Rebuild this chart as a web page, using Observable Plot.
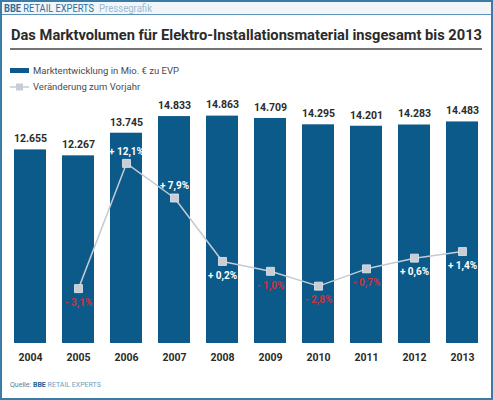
<!DOCTYPE html>
<html>
<head>
<meta charset="utf-8">
<script src="https://cdn.jsdelivr.net/npm/d3@7"></script>
<script src="https://cdn.jsdelivr.net/npm/@observablehq/plot@0.6"></script>
<style>
  body { margin: 0; background: #fff; font-family: Roboto, "Liberation Sans", sans-serif; }
  #frame { position: relative; width: 493px; height: 400px; overflow: hidden; background: #fff; }
  #border { position: absolute; left: 0; top: 0; width: 493px; height: 400px; box-sizing: border-box; border: 2px solid #3b7ca6; pointer-events: none; z-index: 5; }
  #header { position: absolute; left: 0; top: 0; width: 493px; height: 15px; background: #f2f6f9; border-bottom: 1.5px solid #5b93b8; box-sizing: border-box; }
  .abs { position: absolute; }
  .legend { font-family: "Liberation Sans Narrow", "Roboto", sans-serif; font-size: 9.5px; color: #4a4a4a; white-space: nowrap; }
  #chart { position: absolute; left: 0; top: 100px; width: 493px; height: 270px; }
  #chart > svg { position: absolute; left: 0; top: 0; }
</style>
</head>
<body>
<div id="frame">
  <div id="header"></div>
  <svg class="abs" style="left:0;top:0" width="493" height="60">
    <text x="4" y="12" textLength="90" lengthAdjust="spacingAndGlyphs" font-family="Roboto, sans-serif" font-size="10" fill="#2f6e9c"><tspan font-weight="bold">BBE</tspan> RETAIL EXPERTS</text>
    <text x="99" y="12" textLength="53" lengthAdjust="spacingAndGlyphs" font-family="Roboto, sans-serif" font-size="10" fill="#9bbad1">Pressegrafik</text>
    <text x="11" y="39.5" textLength="471" lengthAdjust="spacingAndGlyphs" font-family="Roboto, sans-serif" font-weight="bold" font-size="14.5" fill="#2b2b2b">Das Marktvolumen für Elektro-Installationsmaterial insgesamt bis 2013</text>
    <rect x="10" y="48" width="472" height="2" fill="#747474"></rect>
  </svg>
  <svg class="abs" style="left:10px;top:64px" width="20" height="30">
    <rect x="0" y="4" width="19" height="5" fill="#0b5a8a"></rect>
    <line x1="0" x2="19" y1="23" y2="23" stroke="#c4cad3" stroke-width="1.5"></line>
    <rect x="6" y="19.5" width="7" height="7" fill="#c9cdd6"></rect>
  </svg>
  <div class="abs legend" style="left:33px;top:65px">Marktentwicklung in Mio. € zu EVP</div>
  <div class="abs legend" style="left:33px;top:81px">Veränderung zum Vorjahr</div>
  <div id="chart"></div>
  <div class="abs" style="left:10px;top:381px;font-family:'Liberation Sans Narrow',Roboto,sans-serif;font-size:7px;color:#5a7d96;white-space:nowrap">Quelle: <b style="color:#1f5f8f">BBE</b> <span style="color:#6f9cbd">RETAIL EXPERTS</span></div>
  <div id="border"></div>
</div>
<script>
// Marktvolumen Elektro-Installationsmaterial (Mio. € zu EVP)
const years = ["2004", "2005", "2006", "2007", "2008", "2009", "2010", "2011", "2012", "2013"];
const volume = [12655, 12267, 13745, 14833, 14863, 14709, 14295, 14201, 14283, 14483];
// Veränderung zum Vorjahr in %
const change = [null, -3.1, 12.1, 7.9, 0.2, -1.0, -2.8, -0.7, 0.6, 1.4];
const labelAbove = ["2006", "2007"];

const de = d3.formatLocale({ decimal: ",", thousands: ".", grouping: [3], currency: ["", " €"] });
const fmtVol = de.format(",d");
const fmtPct = (v) => (v >= 0 ? "+ " : "- ") + de.format(".1f")(Math.abs(v)) + "%";

const bars = years.map((year, i) => ({ year, value: volume[i] }));
const pct = years.map((year, i) => ({ year, value: change[i] })).filter((d) => d.value !== null);

const W = 493, H = 270;
const xOpts = { domain: years, paddingInner: 0.34, paddingOuter: 0.1, label: null };

const barPlot = Plot.plot({
  width: W,
  height: H,
  marginLeft: 5,
  marginRight: 6,
  marginTop: 10,
  marginBottom: 27,
  style: { background: "transparent", fontFamily: "Roboto, sans-serif", overflow: "visible" },
  x: xOpts,
  y: { domain: [0, 15230], axis: null },
  marks: [
    Plot.barY(bars, { x: "year", y: "value", fill: "#0b5a8a" }),
    Plot.text(bars, { x: "year", y: "value", text: (d) => fmtVol(d.value), dy: -11, fill: "#2b2b2b", fontWeight: "bold", fontSize: 10.5 }),
    Plot.axisX({ tickSize: 0, tickPadding: 10, fontWeight: "bold", fontSize: 10.5, fill: "#2b2b2b", label: null })
  ]
});

const linePlot = Plot.plot({
  width: W,
  height: H,
  marginLeft: 5,
  marginRight: 6,
  marginTop: 10,
  marginBottom: 27,
  style: { background: "transparent", fontFamily: "Roboto, sans-serif", overflow: "visible" },
  x: { ...xOpts, axis: null },
  y: { domain: [-9.76, 18.52], axis: null },
  marks: [
    Plot.line(pct, { x: "year", y: "value", stroke: "#c4cad3", strokeWidth: 1.5 }),
    Plot.dot(pct, { x: "year", y: "value", symbol: "square", r: 4.5, fill: "#c9cdd6", stroke: "#e6e9ee", strokeWidth: 0.8 }),
    Plot.text(pct, { filter: (d) => labelAbove.includes(d.year), x: "year", y: "value", text: (d) => fmtPct(d.value), dy: -12, fill: "white", fontWeight: "bold", fontSize: 10 }),
    Plot.text(pct, { filter: (d) => !labelAbove.includes(d.year), x: "year", y: "value", text: (d) => fmtPct(d.value), dy: 14, fill: (d) => d.value < 0 ? "#d0313a" : "white", fontWeight: "bold", fontSize: 10 })
  ]
});

const chart = document.getElementById("chart");
chart.append(barPlot, linePlot);
</script>
</body>
</html>
